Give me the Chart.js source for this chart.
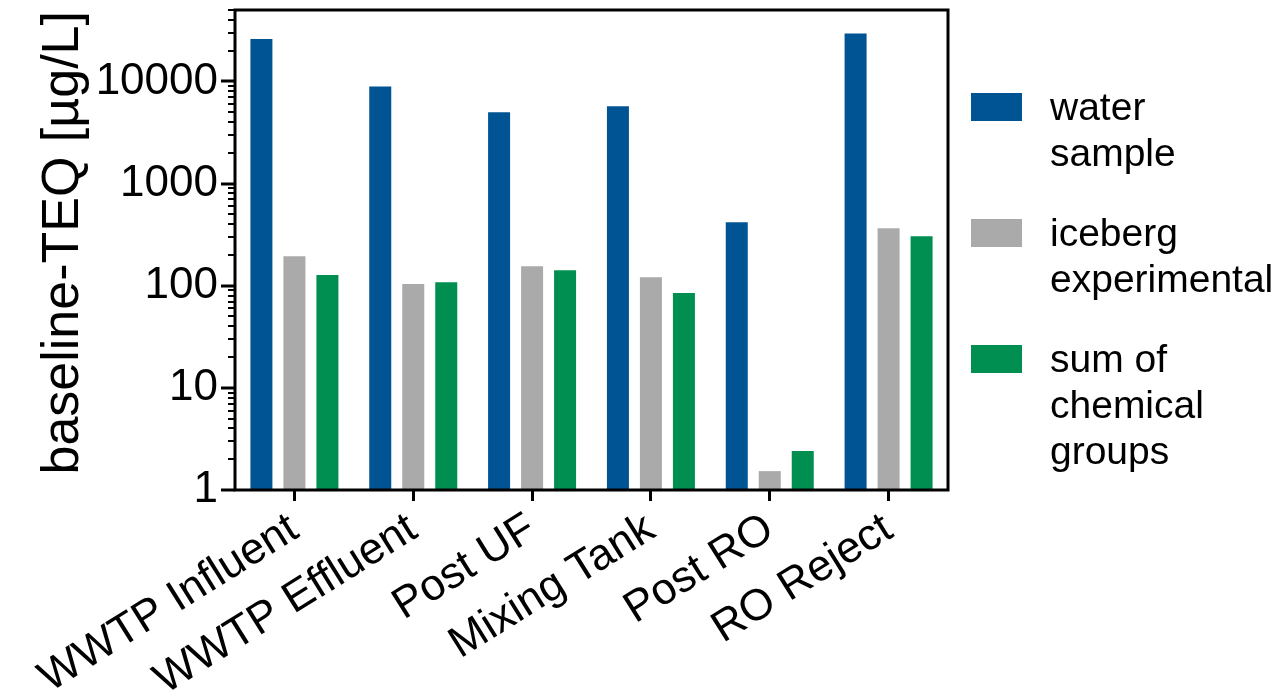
<!DOCTYPE html>
<html>
<head>
<meta charset="utf-8">
<script src="https://cdn.jsdelivr.net/npm/chart.js@4/dist/chart.umd.min.js"></script>
<style>
  body { margin: 0; background: #fff; }
</style>
</head>
<body>
<canvas id="grafico" width="1279" height="697"></canvas>
<script>
const categorias = ['WWTP Influent', 'WWTP Effluent', 'Post UF', 'Mixing Tank', 'Post RO', 'RO Reject'];
const aguaMuestra = [26000, 8900, 5000, 5700, 418, 29500];
const icebergExperimental = [194, 104, 155, 121, 1.53, 365];
const sumaGrupos = [127, 108, 142, 85, 2.41, 305];
const etiquetasSeries = [['water', 'sample'], ['iceberg', 'experimental'], ['sum of', 'chemical', 'groups']];
const ticksY = [1, 10, 100, 1000, 10000];
const maxY = 50000;

const fuente = "'Liberation Sans', Arial, sans-serif";

// marco, marcas del eje y y leyenda de varias lineas
const extras = {
  id: 'extras',
  afterDraw(chart) {
    const ctx = chart.ctx;
    const a = chart.chartArea;
    const y = chart.scales.y;
    ctx.save();
    ctx.strokeStyle = '#000';
    ctx.lineWidth = 3;
    ctx.strokeRect(a.left, a.top, a.right - a.left, a.bottom - a.top);

    // marcas menores y mayores
    for (let d = 1; d < maxY; d *= 10) {
      for (let m = 1; m <= 9; m++) {
        const v = d * m;
        if (v > maxY) break;
        const py = Math.round(y.getPixelForValue(v));
        const largo = m === 1 ? 14 : 7;
        ctx.lineWidth = m === 1 ? 3 : 2;
        ctx.beginPath();
        ctx.moveTo(a.left, py);
        ctx.lineTo(a.left - largo, py);
        ctx.stroke();
      }
    }

    // leyenda
    ctx.font = '39px ' + fuente;
    ctx.textBaseline = 'alphabetic';
    let base = 120;
    chart.data.datasets.forEach((ds, i) => {
      ctx.fillStyle = ds.backgroundColor;
      ctx.fillRect(971, base - 27, 51, 28);
      ctx.fillStyle = '#000';
      etiquetasSeries[i].forEach((t, j) => {
        ctx.fillText(t, 1050, base + j * 46);
      });
      base += etiquetasSeries[i].length * 46 + 34;
    });
    ctx.restore();
  }
};

new Chart(document.getElementById('grafico').getContext('2d'), {
  type: 'bar',
  data: {
    labels: categorias,
    datasets: [{
      label: 'water sample',
      backgroundColor: '#005493',
      data: aguaMuestra
    }, {
      label: 'iceberg experimental',
      backgroundColor: '#AAAAAA',
      data: icebergExperimental
    }, {
      label: 'sum of chemical groups',
      backgroundColor: '#008F51',
      data: sumaGrupos
    }]
  },
  options: {
    responsive: false,
    animation: false,
    layout: { padding: { top: 10, right: 331, left: 0, bottom: 0 } },
    datasets: { bar: { barPercentage: 0.667, categoryPercentage: 0.833 } },
    plugins: { legend: { display: false }, tooltip: { enabled: false } },
    scales: {
      x: {
        grid: { display: true, drawOnChartArea: false, offset: false, tickLength: 11, tickWidth: 3, tickColor: '#000' },
        border: { display: false },
        ticks: {
          color: '#000',
          font: { family: fuente, size: 44 },
          minRotation: 32,
          maxRotation: 32,
          padding: 2,
          autoSkip: false
        },
        afterFit(s) { s.height = 207; s.paddingLeft = 0; s.paddingRight = 0; }
      },
      y: {
        type: 'logarithmic',
        min: 1,
        max: maxY,
        grid: { display: false },
        border: { display: false },
        afterBuildTicks(s) { s.ticks = ticksY.map(v => ({ value: v })); },
        ticks: {
          color: '#000',
          font: { family: fuente, size: 44 },
          padding: 9,
          autoSkip: false,
          callback: v => String(v)
        },
        title: {
          display: true,
          text: ' baseline-TEQ [µg/L]',
          color: '#000',
          font: { family: fuente, size: 52 },
          padding: { top: 32, bottom: 0 }
        },
        afterFit(s) { s.width = 235; s.paddingTop = 0; s.paddingBottom = 0; }
      }
    }
  },
  plugins: [extras]
});
</script>
</body>
</html>
